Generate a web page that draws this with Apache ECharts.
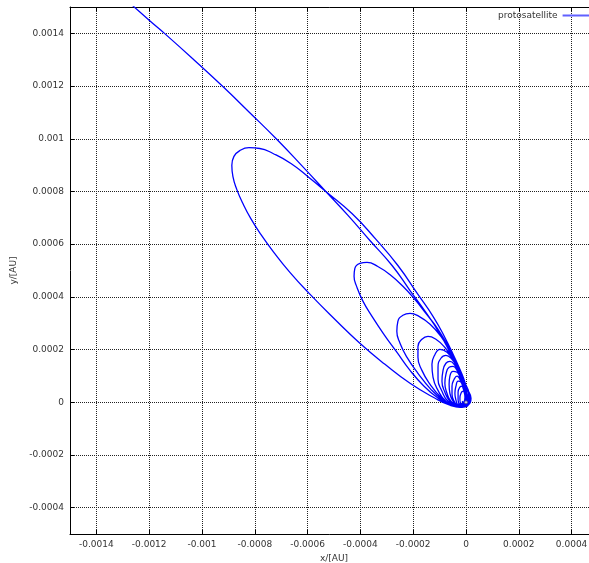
<!DOCTYPE html>
<html>
<head>
<meta charset="utf-8">
<script src="https://cdn.jsdelivr.net/npm/echarts@6/dist/echarts.min.js"></script>
<style>
  html, body { margin: 0; padding: 0; background: #fff; }
  #main { width: 589px; height: 563px; }
</style>
</head>
<body>
<div id="main"></div>
<script>
// axis ticks
var xTicks = [-0.0014, -0.0012, -0.001, -0.0008, -0.0006, -0.0004, -0.0002, 0, 0.0002, 0.0004];
var yTicks = [-0.0004, -0.0002, 0, 0.0002, 0.0004, 0.0006, 0.0008, 0.001, 0.0012, 0.0014];

// orbit, [x, y] in AU, one array per pass
var approach = [
  [-0.001308, 0.001546], [-0.001198, 0.001448], [-0.001141, 0.001399], [-0.001031, 0.0013],
  [-0.000921, 0.001198], [-0.000819, 0.001099], [-0.000716, 0.000997], [-0.000622, 0.000898],
  [-0.000531, 0.0008], [-0.000447, 0.000709], [-0.000364, 0.000614], [-0.00028, 0.000519],
  [-0.000212, 0.000424], [-0.000152, 0.000341], [-0.000102, 0.000265], [-0.000061, 0.00019],
  [-0.000027, 0.000121], [-0.000004, 0.000061], [0.000015, 0.000019], [0.000008, -0.000008],
  [-0.000019, -0.000019]
];
var loop1 = [
  [-0.000061, -0.000011], [-0.000117, 0.000015], [-0.000212, 0.000072], [-0.000307, 0.000144],
  [-0.000402, 0.000224], [-0.0005, 0.000318], [-0.000595, 0.000414], [-0.000667, 0.000493],
  [-0.000728, 0.000569], [-0.000777, 0.000637], [-0.000815, 0.000697], [-0.000845, 0.000754],
  [-0.000868, 0.000807], [-0.000883, 0.000857], [-0.000887, 0.000899], [-0.000879, 0.000933],
  [-0.000857, 0.000955], [-0.000822, 0.000966], [-0.000781, 0.000963], [-0.000731, 0.000944],
  [-0.000663, 0.000906], [-0.000595, 0.000853], [-0.000531, 0.0008], [-0.000432, 0.000716],
  [-0.000341, 0.000618], [-0.000258, 0.000519], [-0.000182, 0.000409], [-0.000125, 0.000326],
  [-0.00008, 0.000246], [-0.000045, 0.000174], [-0.000015, 0.000106], [0.000004, 0.000053],
  [0.000019, 0.000015], [0.000008, -0.000011], [-0.000023, -0.000019]
];
var loop2 = [
  [-0.000064, -0.000008], [-0.00011, 0.000019], [-0.000159, 0.000061], [-0.000212, 0.000121],
  [-0.000262, 0.00019], [-0.000311, 0.000258], [-0.000356, 0.000326], [-0.00039, 0.000383],
  [-0.000413, 0.000436], [-0.000424, 0.000478], [-0.000421, 0.000508], [-0.000402, 0.000527],
  [-0.000375, 0.000531], [-0.000334, 0.000515], [-0.000284, 0.000481], [-0.000239, 0.00044],
  [-0.000197, 0.000394], [-0.000152, 0.000337], [-0.000106, 0.000277], [-0.000068, 0.000212],
  [-0.000034, 0.000144], [-0.000008, 0.00008], [0.000011, 0.00003], [0.000011, -0.000004],
  [-0.000015, -0.000019]
];
var loop3 = [
  [-0.000049, -0.000011], [-0.000087, 0.000008], [-0.000133, 0.000049], [-0.000182, 0.00011],
  [-0.000224, 0.000171], [-0.00025, 0.000224], [-0.000262, 0.000269], [-0.000258, 0.000307],
  [-0.000239, 0.00033], [-0.000212, 0.000337], [-0.000178, 0.000326], [-0.000136, 0.000296],
  [-0.000095, 0.00025], [-0.000061, 0.000193], [-0.00003, 0.000129], [-0.000008, 0.000068],
  [0.000011, 0.000023], [0.000008, -0.000004], [-0.000019, -0.000015]
];
var loop4 = [
  [-0.000057, -0.000008], [-0.000095, 0.000019], [-0.000136, 0.000068], [-0.000167, 0.000121],
  [-0.000182, 0.000171], [-0.000182, 0.000212], [-0.000167, 0.000239], [-0.000144, 0.00025],
  [-0.000114, 0.000239], [-0.00008, 0.000208], [-0.000049, 0.000163], [-0.000027, 0.00011],
  [-0.000004, 0.000053], [0.000008, 0.000011], [-0.000004, -0.000011], [-0.000034, -0.000015]
];
var loop5 = [
  [-0.000076, 0.000004], [-0.000106, 0.000045], [-0.000125, 0.000095], [-0.000129, 0.000144],
  [-0.000117, 0.000182], [-0.000099, 0.000201], [-0.000072, 0.00019], [-0.000045, 0.000155],
  [-0.000023, 0.000102], [-0.000004, 0.000049], [0.000008, 0.000011], [-0.000004, -0.000011],
  [-0.000034, -0.000011]
];
var loop6 = [
  [-0.000068, 0.000004], [-0.000091, 0.000042], [-0.000106, 0.000087], [-0.000106, 0.000133],
  [-0.000095, 0.000167], [-0.000076, 0.000178], [-0.000053, 0.000163], [-0.000034, 0.000133],
  [-0.000015, 0.000087], [0, 0.000042], [0.000008, 0.000008], [-0.000008, -0.000011],
  [-0.000034, -0.000011]
];
var loop7 = [
  [-0.000061, 0.000004], [-0.00008, 0.000038], [-0.000091, 0.00008], [-0.000087, 0.000121],
  [-0.000076, 0.000148], [-0.000061, 0.000155], [-0.000042, 0.00014], [-0.000023, 0.000106],
  [-0.000008, 0.000061], [0.000004, 0.000019], [-0.000004, -0.000008], [-0.00003, -0.000011]
];
var loop8 = [
  [-0.000057, 0.000004], [-0.000072, 0.000034], [-0.00008, 0.000072], [-0.000076, 0.000106],
  [-0.000064, 0.000133], [-0.000049, 0.000136], [-0.000034, 0.000121], [-0.000019, 0.000091],
  [-0.000004, 0.000049], [0.000004, 0.000015], [-0.000008, -0.000008], [-0.00003, -0.000011]
];
var loop9 = [
  [-0.000049, 0.000004], [-0.000061, 0.000034], [-0.000064, 0.000068], [-0.000061, 0.000099],
  [-0.000049, 0.000117], [-0.000034, 0.000114], [-0.000023, 0.000095], [-0.000011, 0.000064],
  [0, 0.00003], [0, 0.000004], [-0.000011, -0.000011], [-0.00003, -0.000011]
];
var loop10 = [
  [-0.000045, 0.000004], [-0.000053, 0.00003], [-0.000053, 0.000061], [-0.000045, 0.000087],
  [-0.000034, 0.000099], [-0.000023, 0.000087], [-0.000011, 0.000061], [-0.000004, 0.00003],
  [0, 0.000004], [-0.000011, -0.000008], [-0.00003, -0.000008]
];
var loop11 = [
  [-0.000038, 0.000008], [-0.000042, 0.000034], [-0.000038, 0.000061], [-0.00003, 0.00008],
  [-0.000019, 0.000076], [-0.000011, 0.000053], [-0.000004, 0.000027], [-0.000004, 0.000004],
  [-0.000015, -0.000008], [-0.000027, -0.000004]
];
var loop12 = [
  [-0.00003, 0.000011], [-0.00003, 0.000038], [-0.000023, 0.000057], [-0.000015, 0.000061],
  [-0.000008, 0.000042], [-0.000004, 0.000019], [-0.000008, 0], [-0.000019, -0.000004]
];
var loop13 = [
  [-0.000023, 0.000015], [-0.000019, 0.000034], [-0.000011, 0.000042], [-0.000004, 0.00003],
  [0, 0.000011], [-0.000008, 0], [-0.000015, 0.000004]
];
var planet = [[0, 0]];

var orbit = [].concat(approach, loop1, loop2, loop3, loop4, loop5, loop6, loop7,
  loop8, loop9, loop10, loop11, loop12, loop13);

var chart = echarts.init(document.getElementById('main'));

var txt = { color: '#333', fontFamily: 'DejaVu Sans', fontSize: 9 };
function fmt(v) { return v === 0 ? '0' : String(v); }

var option = {
  animation: false,
  grid: {
    left: 70, top: 7, width: 528, height: 527,
    outerBoundsMode: 'none',
    containLabel: false
  },
  legend: {
    data: [{ name: 'protosatellite', icon: 'rect' }],
    left: 493, top: 6,
    align: 'right',
    itemWidth: 36, itemHeight: 2,
    itemStyle: { color: '#6060ff', borderWidth: 0 },
    textStyle: txt
  },
  xAxis: [{
    type: 'value', min: -0.0015, max: 0.0005,
    name: 'x/[AU]', nameLocation: 'middle', nameGap: 18, nameTextStyle: txt,
    axisLine: { show: true, onZero: false, lineStyle: { color: '#000', width: 1 } },
    axisTick: { show: true, inside: true, length: 4, customValues: xTicks, lineStyle: { color: '#000' } },
    axisLabel: { customValues: xTicks, margin: 6, formatter: fmt, color: '#333', fontFamily: 'DejaVu Sans', fontSize: 9 },
    splitLine: { show: true, lineStyle: { color: '#222', type: 'dotted', width: 1 } }
  }, {
    type: 'value', position: 'top', min: -0.0015, max: 0.0005,
    axisLine: { show: true, onZero: false, lineStyle: { color: '#000', width: 1 } },
    axisTick: { show: true, inside: true, length: 4, customValues: xTicks, lineStyle: { color: '#000' } },
    axisLabel: { show: false },
    splitLine: { show: false }
  }],
  yAxis: {
    type: 'value', min: -0.0005, max: 0.0015,
    name: 'y/[AU]', nameLocation: 'middle', nameGap: 50, nameTextStyle: txt,
    axisLine: { show: true, onZero: false, lineStyle: { color: '#000', width: 1 } },
    axisTick: { show: true, inside: true, length: 4, customValues: yTicks, lineStyle: { color: '#000' } },
    axisLabel: { customValues: yTicks, margin: 6, formatter: fmt, color: '#333', fontFamily: 'DejaVu Sans', fontSize: 9 },
    splitLine: { show: true, lineStyle: { color: '#222', type: 'dotted', width: 1 } }
  },
  series: [{
    name: 'protosatellite',
    type: 'line',
    data: orbit,
    symbol: 'none',
    smooth: 0.5,
    clip: true,
    color: '#0000ff',
    lineStyle: { color: '#0000ff', width: 1.3 }
  }, {
    name: 'planet',
    type: 'scatter',
    data: planet,
    symbol: 'circle',
    symbolSize: 3,
    itemStyle: { color: '#fff', borderColor: '#555', borderWidth: 0.8 },
    z: 5
  }]
};

chart.setOption(option);
</script>
</body>
</html>
